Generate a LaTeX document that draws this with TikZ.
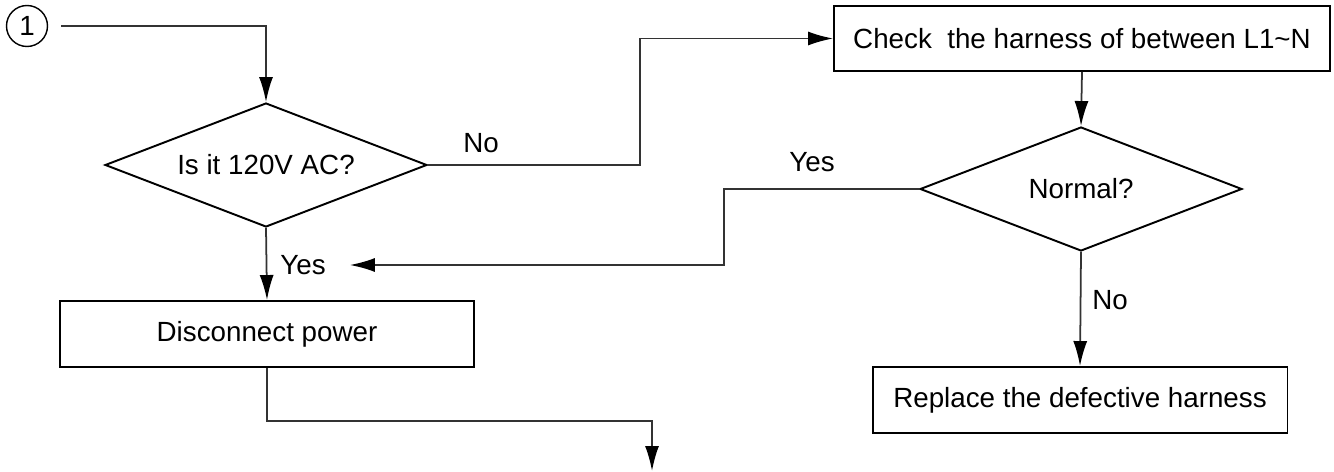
\documentclass[tikz,border=0pt]{standalone}
\usepackage{fontspec}
\setmainfont{Liberation Sans}
\usetikzlibrary{shapes.geometric,arrows.meta}
\tikzset{
  txt/.style={font=\fontsize{15.8pt}{19pt}\selectfont},
  stepbox/.style={txt,draw,line width=1.1pt,inner sep=0pt},
  askbox/.style={txt,draw,diamond,aspect=2.6,line width=1.1pt,inner sep=0pt,
    minimum width=6.44cm,minimum height=2.48cm},
  flow/.style={line width=1pt,draw=black!80,
    -{Latex[length=0.5cm,width=0.28cm,black]}},
  wire/.style={line width=1pt,draw=black!80}
}
\begin{document}
\begin{tikzpicture}[x=0.02cm,y=-0.02cm]
  \useasboundingbox (0,0) rectangle (1334,472);
  % start mark
  \node[txt,draw,circle,line width=0.8pt,minimum size=0.82cm,inner sep=0pt] (start) at (27,26) {1};
  % left column
  \node[askbox] (ask1) at (266,165) {Is it 120V AC?};
  \node[stepbox,minimum width=8.28cm,minimum height=1.32cm] (power) at (267,334) {Disconnect power};
  % right column
  \node[stepbox,minimum width=9.92cm,minimum height=1.3cm] (check) at (1082,38.5) {Check\ \ the harness of between L1\textasciitilde N};
  \node[askbox] (ask2) at (1081,189) {Normal?};
  \node[stepbox,minimum width=8.3cm,minimum height=1.32cm] (fix) at (1080,400) {Replace the defective harness};
  % labels
  \node[txt] (no1) at (481,143) {No};
  \node[txt] (yes1) at (303,265) {Yes};
  \node[txt] (yes2) at (812,162) {Yes};
  \node[txt] (no2) at (1110,300) {No};
  % bend points
  \coordinate (j1) at (640,100);
  \coordinate (j2) at (724,230);
  \coordinate (j3) at (450,421);
  \coordinate (out) at (652,471);
  % connectors
  \draw[flow] ([xshift=0.26cm]start.east) -| (ask1.north);
  \draw[flow] (ask1.east) -| (j1) |- (check.west);
  \draw[flow] (check.south) -- (ask2.north);
  \draw[flow] (ask2.west) -| (j2) |- ([xshift=0.36cm]yes1.east);
  \draw[flow] (ask1.south) -- (power.north);
  \draw[flow] (ask2.south) -- (fix.north);
  \draw[flow] (power.south) |- (j3) -| (out);
\end{tikzpicture}
\end{document}
